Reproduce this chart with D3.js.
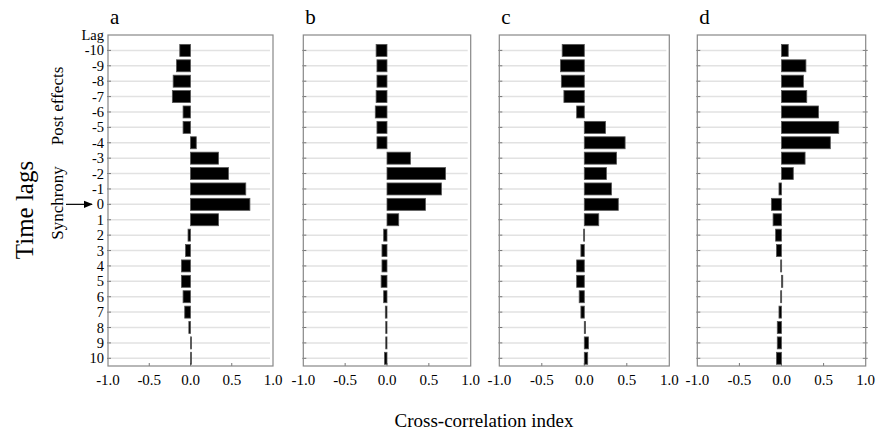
<!DOCTYPE html>
<html><head><meta charset="utf-8">
<script src="https://cdn.jsdelivr.net/npm/d3@7"></script>
<style>body{margin:0;background:#fff}svg{display:block}</style>
</head><body><svg id="c" width="877" height="431" font-family="'Liberation Serif', 'Times New Roman', 'DejaVu Serif', serif"></svg>
<script>
const lags = [-10,-9,-8,-7,-6,-5,-4,-3,-2,-1,0,1,2,3,4,5,6,7,8,9,10];
const panelNames = ["a","b","c","d"];
const valuesA = [-0.13,-0.17,-0.21,-0.22,-0.09,-0.09,0.07,0.34,0.46,0.67,0.72,0.34,-0.03,-0.06,-0.11,-0.11,-0.09,-0.07,-0.02,0.005,0.005];
const valuesB = [-0.13,-0.12,-0.12,-0.13,-0.14,-0.12,-0.12,0.28,0.70,0.65,0.46,0.14,-0.04,-0.06,-0.06,-0.07,-0.04,-0.02,-0.015,-0.015,-0.03];
const valuesC = [-0.26,-0.28,-0.27,-0.24,-0.09,0.25,0.48,0.38,0.26,0.32,0.40,0.17,-0.008,-0.04,-0.09,-0.09,-0.06,-0.04,0.015,0.05,0.04];
const valuesD = [0.08,0.29,0.26,0.30,0.44,0.68,0.58,0.28,0.14,-0.03,-0.12,-0.10,-0.07,-0.06,-0.01,0.015,-0.01,-0.03,-0.05,-0.05,-0.06];
const xTicks = [-1.0,-0.5,0.0,0.5,1.0];
const yLabels = ["-10","-9","-8","-7","-6","-5","-4","-3","-2","-1","0","1","2","3","4","5","6","7","8","9","10"];

const series = [valuesA, valuesB, valuesC, valuesD];
const lefts = [108, 303.3, 499.3, 697.3];
const widths = [165, 167.4, 170, 168.4];
const plotTop = 35, plotBottom = 366;
const svg = d3.select("#c");
const y = d3.scaleLinear().domain([-11, 10.5]).range([plotTop, plotBottom]);
const barH = 12;

series.forEach((vals, i) => {
  const W = widths[i];
  const x = d3.scaleLinear().domain([-1, 1]).range([lefts[i], lefts[i] + W]);
  const g = svg.append("g");
  g.selectAll("line.grid").data(lags).join("line")
    .attr("x1", lefts[i] + 1).attr("x2", lefts[i] + W - 3)
    .attr("y1", d => y(d)).attr("y2", d => y(d))
    .attr("stroke", "#e2e2e2").attr("stroke-width", 1.5);
  g.selectAll("line.lt").data(lags).join("line")
    .attr("x1", lefts[i] - 1).attr("x2", lefts[i] + 3)
    .attr("y1", d => y(d)).attr("y2", d => y(d))
    .attr("stroke", "#777").attr("stroke-width", 1);
  if (i === 3) {
    g.selectAll("line.rt").data(lags).join("line")
      .attr("x1", lefts[i] + W - 3).attr("x2", lefts[i] + W + 2)
      .attr("y1", d => y(d)).attr("y2", d => y(d))
      .attr("stroke", "#777").attr("stroke-width", 1);
  }
  g.selectAll("line.bt").data(xTicks.slice(1, -1)).join("line")
    .attr("x1", d => x(d)).attr("x2", d => x(d))
    .attr("y1", plotBottom).attr("y2", plotBottom - 3)
    .attr("stroke", "#777");
  g.selectAll("rect.bar").data(vals.map((v, k) => ({v, lag: lags[k]}))).join("rect")
    .attr("x", d => Math.min(x(0), x(d.v)))
    .attr("width", d => Math.max(1, Math.abs(x(d.v) - x(0))))
    .attr("y", d => y(d.lag) - barH / 2)
    .attr("height", barH)
    .attr("fill", "#000").attr("stroke", "#555").attr("stroke-width", 0.8);
  g.append("rect").attr("x", lefts[i]).attr("y", plotTop).attr("width", W).attr("height", plotBottom - plotTop)
    .attr("fill", "none").attr("stroke", "#888").attr("stroke-width", 1.2);
  g.selectAll("text.xl").data(xTicks).join("text")
    .attr("x", d => x(d)).attr("y", 385).attr("text-anchor", "middle")
    .attr("font-size", 15).text(d => d.toFixed(1));
  g.append("text").attr("x", lefts[i] + 2).attr("y", 24).attr("font-size", 21).text(panelNames[i]);
});

svg.selectAll("text.yl").data(yLabels).join("text")
  .attr("x", 104).attr("y", (d, k) => y(lags[k]) + 5).attr("text-anchor", "end")
  .attr("font-size", 14.5).text(d => d);
svg.append("text").attr("x", 104).attr("y", y(-11) + 5).attr("text-anchor", "end")
  .attr("font-size", 14.5).text("Lag");

svg.append("defs").append("marker").attr("id", "ah").attr("viewBox", "0 0 10 10")
  .attr("refX", 9).attr("refY", 5).attr("markerWidth", 9).attr("markerHeight", 9)
  .attr("markerUnits", "userSpaceOnUse").attr("orient", "auto")
  .append("path").attr("d", "M0,1 L10,5 L0,9 Z").attr("fill", "#000");
svg.append("line").attr("x1", 66).attr("x2", 92).attr("y1", y(0)).attr("y2", y(0))
  .attr("stroke", "#000").attr("stroke-width", 1.2).attr("marker-end", "url(#ah)");

svg.append("text").attr("transform", `translate(63,106) rotate(-90)`).attr("text-anchor", "middle")
  .attr("font-size", 17).text("Post effects");
svg.append("text").attr("transform", `translate(63,203) rotate(-90)`).attr("text-anchor", "middle")
  .attr("font-size", 17).text("Synchrony");
svg.append("text").attr("transform", `translate(33,210) rotate(-90)`).attr("text-anchor", "middle")
  .attr("font-size", 25).text("Time lags");
svg.append("text").attr("x", 484).attr("y", 427).attr("text-anchor", "middle")
  .attr("font-size", 19).text("Cross-correlation index");
</script></body></html>
